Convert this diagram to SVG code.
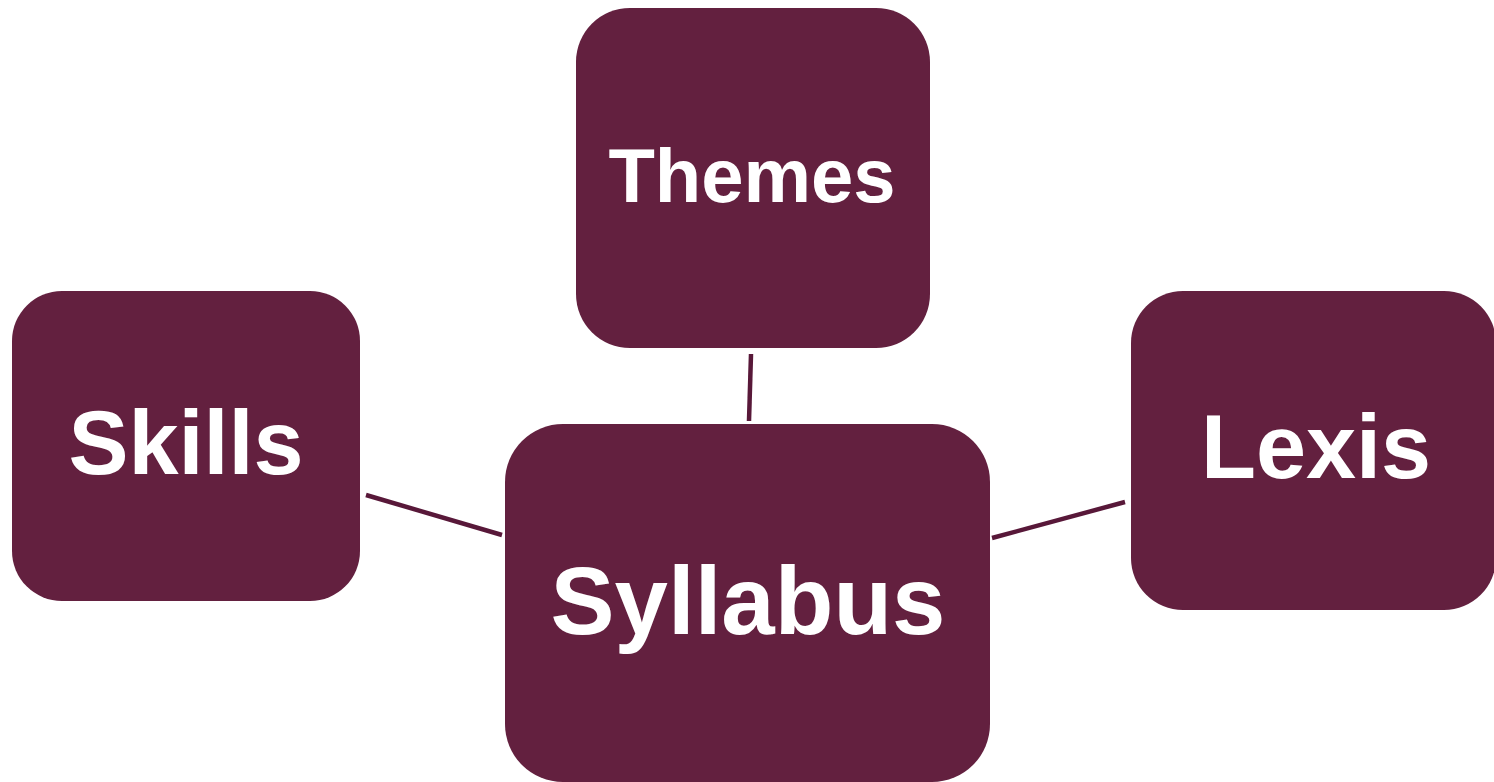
<svg xmlns="http://www.w3.org/2000/svg" width="1494" height="782" viewBox="0 0 1494 782">
  <style>
    .box { fill: #63203F; }
    .lbl { fill: #FFFFFF; font-family: "Liberation Sans", Arial, sans-serif; font-weight: bold; text-anchor: middle; }
    .link { stroke: #581839; stroke-width: 4.5; fill: none; }
  </style>
  <rect width="1494" height="782" fill="#FFFFFF"/>
  <g id="connectors">
    <line class="link" x1="366" y1="495" x2="502" y2="535"/>
    <line class="link" x1="992" y1="538" x2="1125" y2="502"/>
    <line class="link" x1="751" y1="354" x2="749" y2="421"/>
  </g>
  <g id="node-themes">
    <rect class="box" x="576" y="8" width="354" height="340" rx="54"/>
    <text class="lbl" x="752" y="202" font-size="76">Themes</text>
  </g>
  <g id="node-skills">
    <rect class="box" x="12" y="291" width="348" height="310" rx="50"/>
    <text class="lbl" x="186" y="474" font-size="90">Skills</text>
  </g>
  <g id="node-lexis">
    <rect class="box" x="1131" y="291" width="365" height="319" rx="52"/>
    <text class="lbl" x="1316" y="478" font-size="90">Lexis</text>
  </g>
  <g id="node-syllabus">
    <rect class="box" x="505" y="424" width="485" height="358" rx="58"/>
    <text class="lbl" x="748" y="634" font-size="96">Syllabus</text>
  </g>
</svg>
